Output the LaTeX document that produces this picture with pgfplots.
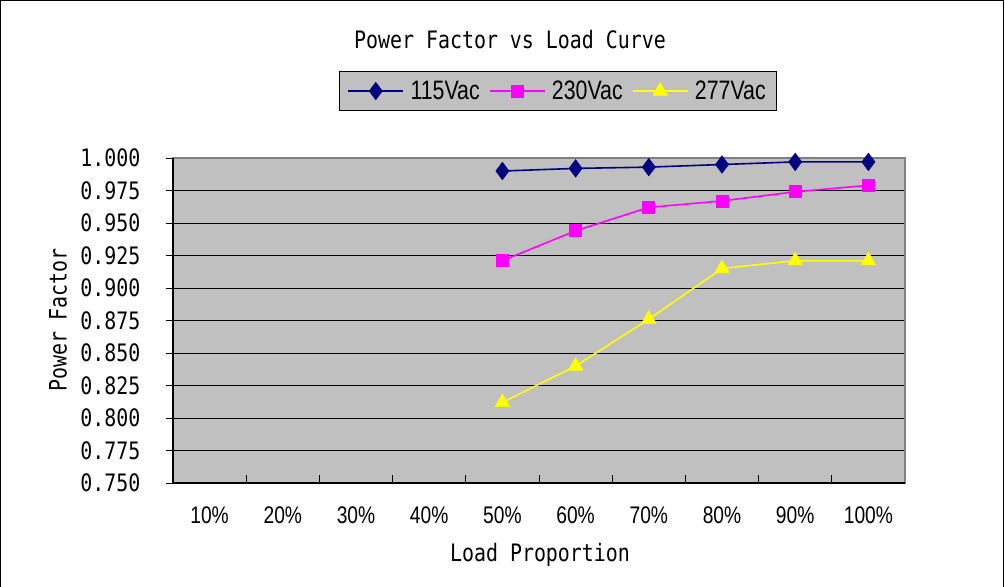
\documentclass[border=0pt]{standalone}
\usepackage{pgfplots}
\pgfplotsset{compat=1.18}
\usepackage{fontspec}
\setmainfont{Liberation Sans}
\newfontfamily\gothic[FakeStretch=0.83]{DejaVu Sans Mono}
\newfontfamily\narrow[FakeStretch=0.8]{Liberation Sans}
\definecolor{plotgray}{RGB}{192,192,192}
\definecolor{framegray}{RGB}{128,128,128}
\definecolor{navyline}{RGB}{0,0,128}
\definecolor{pinkline}{RGB}{255,0,255}
\definecolor{yellowline}{RGB}{255,255,0}
\begin{document}
\begin{tikzpicture}[>=latex]
\useasboundingbox (0,0) rectangle (753.75pt,-439.5pt);
\draw[black, line width=0.75pt] (0.6pt,-0.6pt) rectangle (752.4pt,-450pt);
\begin{axis}[
    at={(129.75pt,-362.25pt)}, anchor=south west,
    scale only axis, width=549pt, height=243.75pt,
    xmin=-0.5, xmax=9.5, ymin=0.75, ymax=1.0,
    xtick={0,...,9},
    xticklabels={10\%,20\%,30\%,40\%,50\%,60\%,70\%,80\%,90\%,100\%},
    major x tick style={draw=none},
    minor xtick={0.5,1.5,...,8.5},
    minor tick length=6pt,
    minor x tick style={black, line width=0.75pt, yshift=6pt},
    ytick={0.75,0.775,...,1.001},
    major tick length=5pt,
    tick align=outside,
    xtick pos=bottom, ytick pos=left,
    ytick style={black, line width=0.75pt},
    ymajorgrids=true,
    major grid style={black, line width=0.75pt},
    axis line style={draw=framegray, line width=1pt},
    axis background/.style={fill=plotgray},
    yticklabel style={font=\gothic\fontsize{18}{20}\selectfont, xshift=-16pt,
        /pgf/number format/.cd, fixed, fixed zerofill, precision=3, assume math mode=true},
    xticklabel style={font=\narrow\fontsize{18}{20}\selectfont, yshift=-9pt},
    legend columns=3,
    legend style={at={(axis description cs:0.526,1.206)}, anchor=center,
        fill=plotgray, draw=black, line width=0.75pt,
        font=\narrow\fontsize{20}{22}\selectfont,
        inner xsep=6pt, inner ysep=5pt,
        /tikz/every odd column/.append style={column sep=3pt},
        /tikz/every even column/.append style={column sep=5pt}},
    legend image code/.code={\draw[mark repeat=2,mark phase=2] plot coordinates {(0cm,0cm)(0.72cm,0cm)(1.44cm,0cm)};},
    clip=false,
]
\addplot[color=navyline, line width=1.2pt, mark=diamond*, mark size=6.5pt,
    mark options={fill=navyline, draw=navyline, line width=0.5pt}] coordinates {
    (4,0.990)(5,0.992)(6,0.993)(7,0.995)(8,0.997)(9,0.997)
};
\addplot[color=pinkline, line width=1.2pt, mark=square*, mark size=4.5pt,
    mark options={fill=pinkline, draw=pinkline, line width=0.5pt}] coordinates {
    (4,0.921)(5,0.944)(6,0.962)(7,0.967)(8,0.974)(9,0.979)
};
\addplot[color=yellowline, line width=1.2pt, mark=triangle*, mark size=6.3pt,
    mark options={fill=yellowline, draw=yellowline, line width=0.5pt}] coordinates {
    (4,0.812)(5,0.840)(6,0.876)(7,0.915)(8,0.921)(9,0.921)
};
\legend{115Vac, 230Vac, 277Vac}
\draw[black, line width=1.2pt] (rel axis cs:0,1) -- (rel axis cs:0,0) -- (rel axis cs:1,0);
\end{axis}
\node[font=\gothic\fontsize{18}{20}\selectfont] at (382.5pt,-30pt) {Power Factor vs Load Curve};
\node[font=\gothic\fontsize{18}{20}\selectfont, rotate=90] at (43.5pt,-240pt) {Power Factor};
\node[font=\gothic\fontsize{18}{20}\selectfont] at (405pt,-416.25pt) {Load Proportion};
\end{tikzpicture}
\end{document}
